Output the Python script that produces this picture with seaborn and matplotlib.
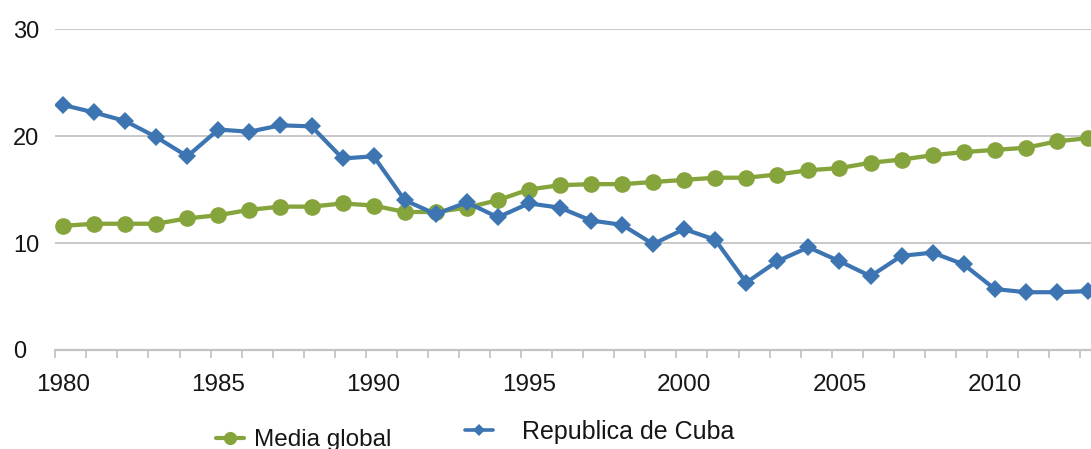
import matplotlib
matplotlib.use("Agg")
import matplotlib.pyplot as plt
from matplotlib.lines import Line2D
from matplotlib.ticker import MultipleLocator
import seaborn as sns
import pandas as pd

years = list(range(1980, 2014))
media_global = [11.6, 11.8, 11.8, 11.8, 12.3, 12.6, 13.1, 13.4, 13.4, 13.7,
                13.5, 12.9, 12.9, 13.3, 14.0, 15.0, 15.4, 15.5, 15.5, 15.7,
                15.9, 16.1, 16.1, 16.4, 16.8, 17.0, 17.5, 17.8, 18.2, 18.5,
                18.7, 18.9, 19.5, 19.8]
cuba = [22.9, 22.2, 21.4, 19.9, 18.1, 20.6, 20.4, 21.0, 20.9, 17.9,
        18.1, 14.0, 12.7, 13.8, 12.4, 13.7, 13.3, 12.1, 11.7, 9.9,
        11.3, 10.3, 6.3, 8.3, 9.6, 8.3, 6.9, 8.8, 9.1, 8.0,
        5.7, 5.4, 5.4, 5.5]
series_names = ["Media global", "Republica de Cuba"]
y_ticks = [0, 10, 20, 30]
x_ticks = [1980, 1985, 1990, 1995, 2000, 2005, 2010]

GREEN = "#86a43c"
BLUE = "#3d74b2"
GRID = "#c4c4c4"
TEXT = "#161616"

sns.set_theme(style="white")
plt.rcParams["font.family"] = ["Liberation Sans", "DejaVu Sans"]

df = pd.DataFrame({"year": years, "media": media_global, "cuba": cuba})

fig = plt.figure(figsize=(10.91, 4.49), dpi=100)
ax = fig.add_axes([55 / 1091, 99 / 449, 1 - 55 / 1091, (350 - 29) / 449])

sns.lineplot(data=df, x="year", y="media", ax=ax, color=GREEN, linewidth=3.1,
             marker="o", markersize=12, markeredgewidth=0, zorder=3)
sns.lineplot(data=df, x="year", y="cuba", ax=ax, color=BLUE, linewidth=3.0,
             marker="D", markersize=9, markeredgewidth=0, zorder=4)

ax.set_xlim(1979.74, 2013.1)
ax.set_ylim(0, 30)
ax.set_xlabel("")
ax.set_ylabel("")

ax.set_yticks(y_ticks)
ax.set_yticklabels([str(v) for v in y_ticks])
ax.set_xticks(x_ticks)
ax.set_xticklabels([str(v) for v in x_ticks])
# small tick marks sit between the yearly points
ax.xaxis.set_minor_locator(MultipleLocator(1, offset=0.75))

for yv in y_ticks[1:]:
    ax.axhline(yv, color=GRID, linewidth=1.3, zorder=1)

for side in ["top", "right", "left"]:
    ax.spines[side].set_visible(False)
ax.spines["bottom"].set_color(GRID)
ax.spines["bottom"].set_linewidth(1.6)

ax.tick_params(axis="y", length=0, labelsize=17, pad=30, colors=TEXT)
for lbl in ax.get_yticklabels():
    lbl.set_horizontalalignment("left")
ax.tick_params(axis="x", which="major", length=6, width=0, color=GRID,
               labelsize=17.5, pad=11, labelcolor=TEXT, direction="out")
ax.tick_params(axis="x", which="minor", length=6, width=1.3, color=GRID,
               direction="out", bottom=True)

h1 = Line2D([], [], color=GREEN, linewidth=3.0, marker="o", markersize=9.5,
            markeredgewidth=0)
h2 = Line2D([], [], color=BLUE, linewidth=2.6, marker="D", markersize=6,
            markeredgewidth=0)
leg1 = fig.legend([h1], [series_names[0]], loc="center left",
                  bbox_to_anchor=(216 / 1091, 1 - 440 / 449), frameon=False,
                  fontsize=17.5, handlelength=1.15, handletextpad=0.42,
                  borderpad=0, borderaxespad=0)
leg2 = fig.legend([h2], [series_names[1]], loc="center left",
                  bbox_to_anchor=(465 / 1091, 1 - 431.5 / 449), frameon=False,
                  fontsize=18, handlelength=1.12, handletextpad=1.16,
                  borderpad=0, borderaxespad=0)
for leg in (leg1, leg2):
    for t in leg.get_texts():
        t.set_color(TEXT)

fig.savefig("out.png", dpi=100)
